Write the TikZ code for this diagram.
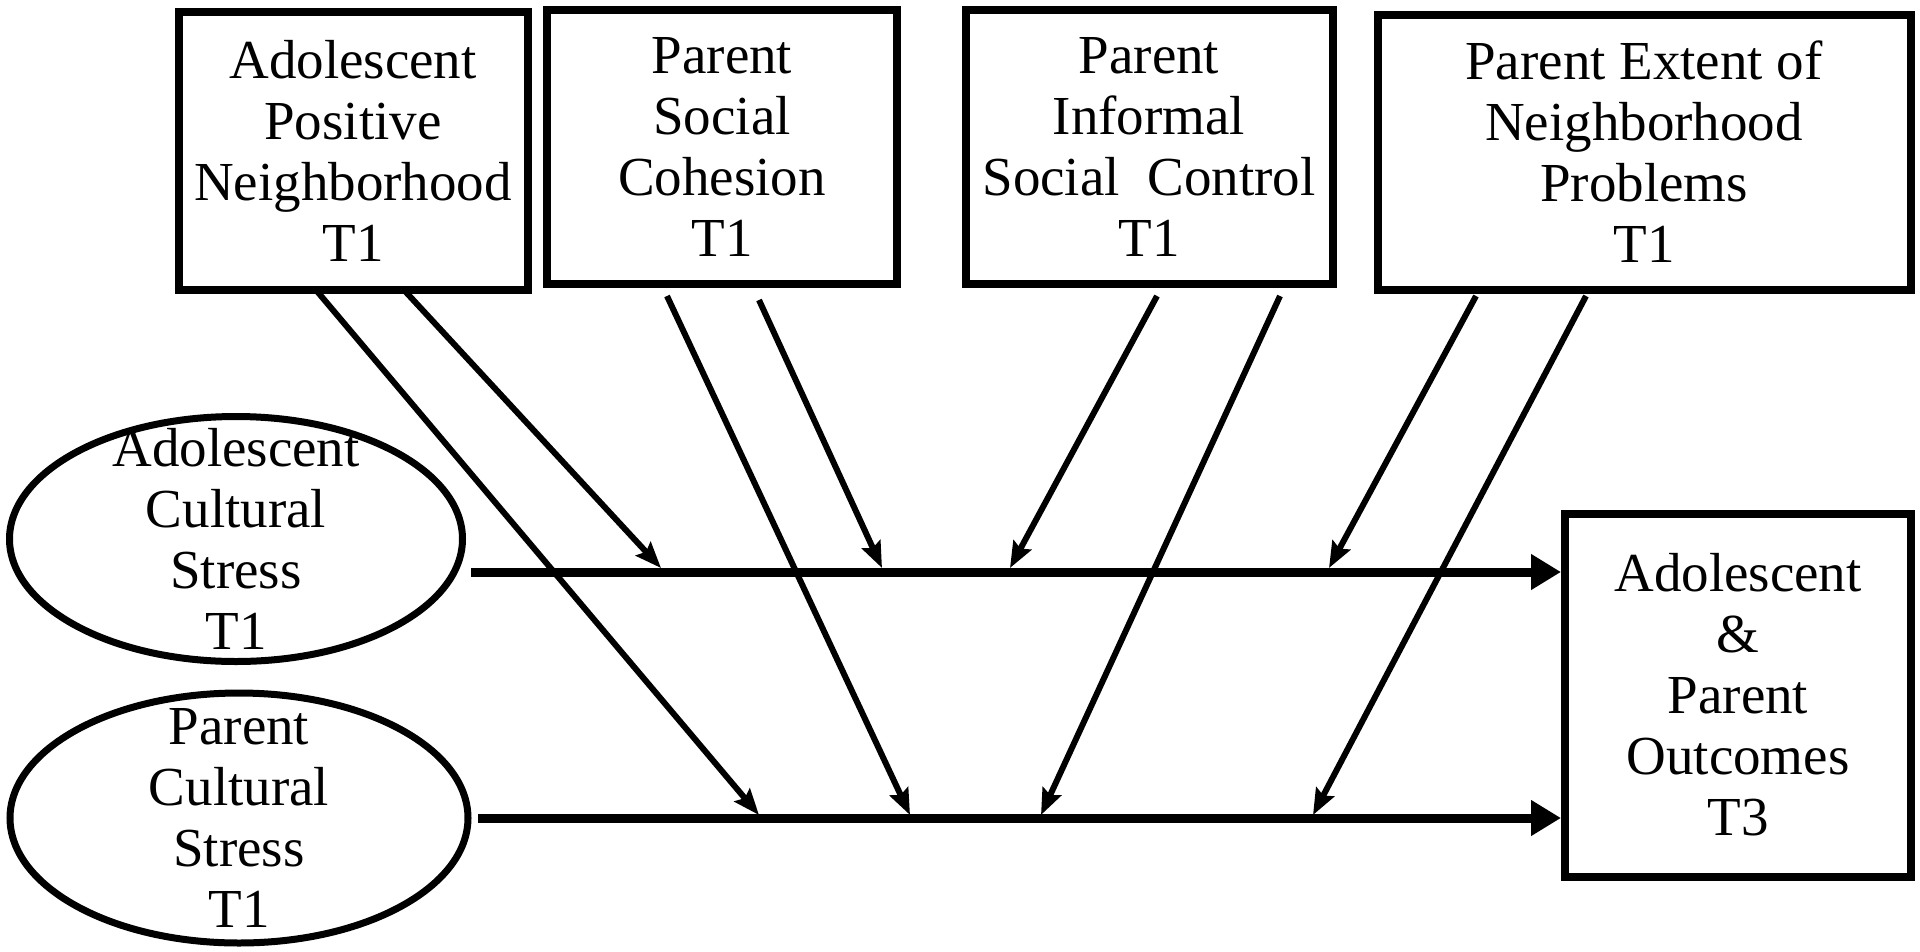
\documentclass[tikz,border=0pt]{standalone}
\usepackage{fontspec}
\setmainfont{Liberation Serif}
\usetikzlibrary{arrows.meta,shapes.geometric}
\begin{document}
\begin{tikzpicture}[x=1pt,y=-1pt,
  txt/.style={align=center,font=\fontsize{55}{61}\selectfont},
  boxnode/.style={draw,line width=8pt,rectangle,inner sep=0pt,txt},
  ovalnode/.style={draw,line width=7pt,ellipse,inner sep=0pt},
  mainarrow/.style={line width=9pt,-{Triangle[length=30pt,width=34pt]}},
  modarrow/.style={line width=6pt,-{Stealth[length=26pt,width=20pt,inset=4pt]}}]
\useasboundingbox (0,0) rectangle (1920,951);

% moderator boxes
\node[boxnode,minimum width=349pt,minimum height=278pt] (b1) at (353,151)
  {Adolescent\\Positive\\Neighborhood\\T1};
\node[boxnode,minimum width=350pt,minimum height=274pt] (b2) at (722,147)
  {Parent\\Social\\Cohesion\\T1};
\node[boxnode,minimum width=367pt,minimum height=274pt] (b3) at (1149,147)
  {Parent\\Informal\\Social\ \ Control\\T1};
\node[boxnode,minimum width=533pt,minimum height=275pt] (b4) at (1644,152)
  {Parent Extent of\\Neighborhood\\Problems\\T1};

% predictors
\node[ovalnode,minimum width=453pt,minimum height=245pt] (e1) at (236,539)
  {};
\node[txt] (e1t) at (e1.center) {Adolescent\\Cultural\\Stress\\T1};
\node[ovalnode,minimum width=458pt,minimum height=250pt] (e2) at (239,818)
  {};
\node[txt] (e2t) at (e2.center) {Parent\\Cultural\\Stress\\T1};

% outcome
\node[boxnode,minimum width=346pt,minimum height=363pt] (b5) at (1738,695)
  {Adolescent\\\&\\Parent\\Outcomes\\T3};

% main paths
\coordinate (l1s) at (471,572);
\coordinate (l2s) at (478,818);
\draw[mainarrow] (l1s) -- (l1s -| b5.west);
\draw[mainarrow] (l2s) -- (l2s -| b5.west);

% moderation paths
\coordinate (a1s) at (316,290); \coordinate (a1e) at (759,815);
\coordinate (a2s) at (404,290); \coordinate (a2e) at (661,568);
\coordinate (a3s) at (667,296); \coordinate (a3e) at (910,815);
\coordinate (a4s) at (759,300); \coordinate (a4e) at (882,568);
\coordinate (a5s) at (1157,296); \coordinate (a5e) at (1010,568);
\coordinate (a6s) at (1280,296); \coordinate (a6e) at (1041,815);
\coordinate (a7s) at (1476,296); \coordinate (a7e) at (1329,568);
\coordinate (a8s) at (1586,296); \coordinate (a8e) at (1313,815);
\foreach \i in {1,...,8}{
  \draw[modarrow] (a\i s) -- (a\i e);
}
\end{tikzpicture}
\end{document}
